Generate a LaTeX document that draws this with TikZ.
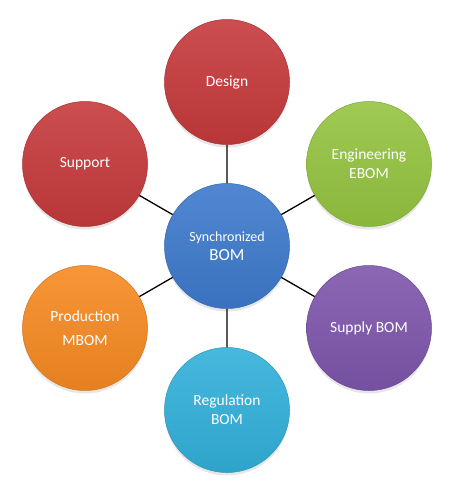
\documentclass[tikz,border=0pt]{standalone}
\usepackage{fontspec}
\setmainfont{Carlito}
\usepackage{tikz}
\usetikzlibrary{positioning}
\usetikzlibrary{shadows}

\definecolor{bomblue}{RGB}{62,122,205}
\definecolor{bomred}{RGB}{198,58,60}
\definecolor{bomgreen}{RGB}{148,196,64}
\definecolor{bompurple}{RGB}{126,86,172}
\definecolor{bomaqua}{RGB}{50,176,218}
\definecolor{bomorange}{RGB}{246,138,34}

\begin{document}
\begin{tikzpicture}[x=1pt,y=-1pt,line width=1.3pt,
                    bubble/.style={circle,minimum size=125pt,inner sep=0pt,align=center,
                      text=white,font=\fontsize{15.5}{19}\selectfont,
                      top color=#1!90!white,bottom color=#1!93!black,
                      draw=#1!85!black,line width=0.5pt,
                      drop shadow={opacity=0.2,shadow xshift=0pt,shadow yshift=-3pt}}]

  \useasboundingbox (0,0) rectangle (450,493);

  \node[bubble=bomblue] (bom) at (227,246)
    {{\fontsize{14}{18}\selectfont Synchronized}\\{\fontsize{17}{19}\selectfont BOM}};
  \node[bubble=bomred] (design) at (227,82) {Design};
  \node[bubble=bomgreen] (engineering) at (369,164) {Engineering\\EBOM};
  \node[bubble=bompurple] (supply) at (369,328) {Supply BOM};
  \node[bubble=bomaqua] (regulation) at (227,410) {Regulation\\BOM};
  \node[bubble=bomorange] (production) at (85,328) {Production\\[5pt]MBOM};
  \node[bubble=bomred] (support) at (85,164) {Support};

  \draw (bom) -- (design)
        (bom) -- (engineering)
        (bom) -- (supply)
        (bom) -- (regulation)
        (bom) -- (production)
        (bom) -- (support);
\end{tikzpicture}
\end{document}
